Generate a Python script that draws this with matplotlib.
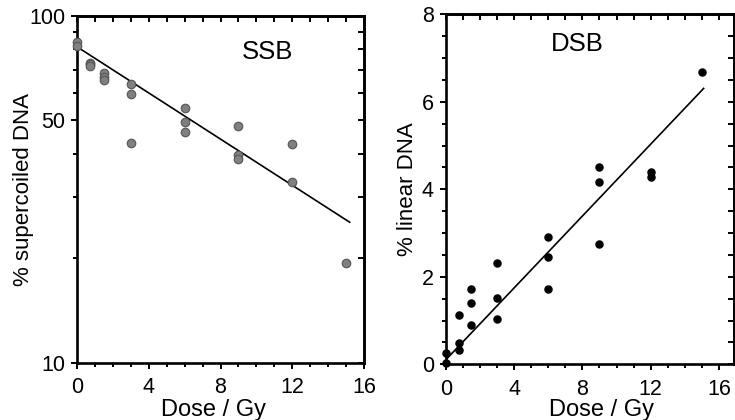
import numpy as np
import matplotlib
matplotlib.use("Agg")
import matplotlib.pyplot as plt
from matplotlib.ticker import FixedLocator, NullFormatter, FixedFormatter

plt.rcParams["font.family"] = ["Liberation Sans", "DejaVu Sans"]

# SSB: % supercoiled DNA vs dose (log scale)
ssb_dose = [0, 0, 0.75, 0.75, 0.75, 1.5, 1.5, 1.5, 3, 3, 3, 6, 6, 6, 9, 9, 9, 12, 12, 15]
ssb_pct = [84, 82, 73, 72.5, 71.5, 68.2, 66.7, 65.3, 63.8, 59.7, 42.9,
           54.3, 49.5, 46.3, 48.2, 39.7, 38.6, 42.7, 33.1, 19.4]
ssb_fit_a = 81.4      # intercept of exponential fit
ssb_fit_k = 0.0766    # decay per Gy
ssb_fit_range = [0, 15.2]

# DSB: % linear DNA vs dose
dsb_dose = [0, 0, 0.75, 0.75, 0.75, 1.5, 1.5, 1.5, 3, 3, 3, 6, 6, 6, 9, 9, 9, 12, 12, 15]
dsb_pct = [0.25, 0.03, 1.13, 0.49, 0.33, 1.71, 1.41, 0.90, 2.31, 1.51, 1.04,
           2.90, 2.46, 1.71, 4.50, 4.17, 2.75, 4.40, 4.29, 6.69]
dsb_fit_b = 0.1
dsb_fit_m = 0.411
dsb_fit_range = [0.05, 15.1]

fig = plt.figure(figsize=(7.35, 4.2), dpi=100)
ax1 = fig.add_axes([0.1048, 0.1364, 0.3905, 0.826])
ax2 = fig.add_axes([0.6064, 0.1326, 0.3916, 0.8333])

tick_kw = dict(width=1.4, colors="black", labelsize=15.5)


def style_axes(ax, xmax, ylog):
    for s in ax.spines.values():
        s.set_linewidth(1.9)
    ax.set_xlim(0, xmax)
    ax.xaxis.set_major_locator(FixedLocator([0, 4, 8, 12, 16]))
    ax.xaxis.set_minor_locator(FixedLocator(np.arange(0, 17, 1)))
    ax.tick_params(axis="both", which="major", direction="out", length=4.5, pad=6, **tick_kw)
    ax.tick_params(axis="both", which="minor", direction="out", length=3.2, width=1.4)
    ax.tick_params(axis="y", which="major", pad=4)

    top = ax.secondary_xaxis("top")
    top.xaxis.set_major_locator(FixedLocator(np.arange(0, 17, 1)))
    top.tick_params(direction="in", length=4.5, width=1.4, labeltop=False)
    top.spines["top"].set_linewidth(1.9)

    right = ax.secondary_yaxis("right")
    if ylog:
        right.yaxis.set_major_locator(FixedLocator([10, 20, 30, 40, 50, 60, 70, 80, 90, 100]))
    else:
        right.yaxis.set_major_locator(FixedLocator(np.arange(0, 8.5, 0.5)))
    right.yaxis.set_minor_locator(FixedLocator([]))
    right.tick_params(direction="in", length=4.5, width=1.4, labelright=False)
    right.yaxis.set_minor_formatter(NullFormatter())
    right.spines["right"].set_linewidth(1.9)


# ---- SSB panel
ax1.set_yscale("log")
ax1.set_ylim(10, 100)
style_axes(ax1, 16, True)
ax1.yaxis.set_major_locator(FixedLocator([10, 50, 100]))
ax1.yaxis.set_major_formatter(FixedFormatter(["10", "50", "100"]))
ax1.yaxis.set_minor_locator(FixedLocator([20, 30, 40, 60, 70, 80, 90]))
ax1.yaxis.set_minor_formatter(NullFormatter())

ax1.scatter(ssb_dose, ssb_pct, s=38, color="#808080", edgecolor="#555555",
            linewidth=0.8, zorder=3, clip_on=False)
xf = np.linspace(ssb_fit_range[0], ssb_fit_range[1], 50)
ax1.plot(xf, ssb_fit_a * np.exp(-ssb_fit_k * xf), color="black", lw=1.2, zorder=2)

ax1.text(0.664, 0.896, "SSB", transform=ax1.transAxes, fontsize=18.5,
         ha="center", va="center")
ax1.set_xlabel("Dose / Gy", fontsize=17)
ax1.xaxis.set_label_coords(0.474, -0.136)
ax1.xaxis.label.set_va("center")
ax1.set_ylabel("% supercoiled DNA", fontsize=16)
ax1.yaxis.set_label_coords(-0.185, 0.5)
ax1.yaxis.label.set_va("center")

# ---- DSB panel
ax2.set_ylim(0, 8)
style_axes(ax2, 16.85, False)
ax2.yaxis.set_major_locator(FixedLocator([0, 2, 4, 6, 8]))
ax2.yaxis.set_minor_locator(FixedLocator(np.arange(0, 8.5, 0.5)))

ax2.scatter(dsb_dose, dsb_pct, s=26, color="black", zorder=3, clip_on=False)
xf = np.array(dsb_fit_range)
ax2.plot(xf, dsb_fit_b + dsb_fit_m * xf, color="black", lw=1.2, zorder=2)

ax2.text(0.458, 0.915, "DSB", transform=ax2.transAxes, fontsize=18.5,
         ha="center", va="center")
ax2.set_xlabel("Dose / Gy", fontsize=17)
ax2.xaxis.set_label_coords(0.54, -0.13)
ax2.xaxis.label.set_va("center")
ax2.set_ylabel("% linear DNA", fontsize=16)
ax2.yaxis.set_label_coords(-0.133, 0.5)
ax2.yaxis.label.set_va("center")

fig.savefig("out.png", dpi=100)
